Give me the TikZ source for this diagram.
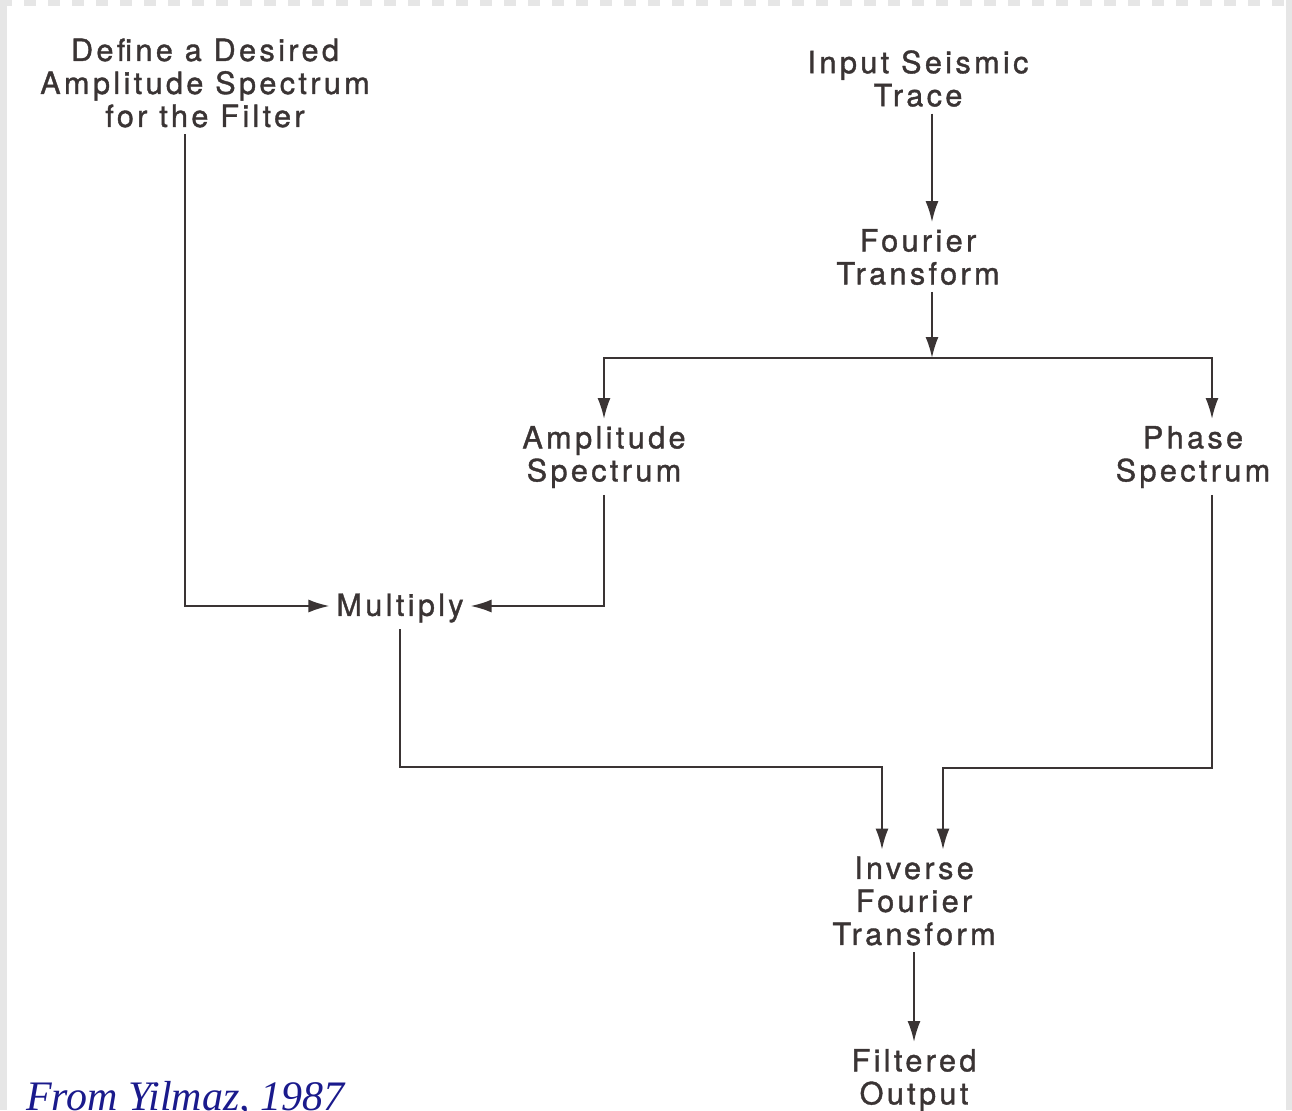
\documentclass[tikz,border=0pt]{standalone}
\usepackage{fontspec}
\usepackage{tikz}
\usetikzlibrary{arrows.meta,calc}
\newfontfamily\flowfont[LetterSpace=11,FakeBold=1.2]{TeX Gyre Heros}
\newfontfamily\citefont{Liberation Serif}
\definecolor{ink}{HTML}{3A3434}
\definecolor{frame}{HTML}{E6E6E6}
\definecolor{navy}{HTML}{1A1A8C}

\begin{document}
\begin{tikzpicture}[x=0.5pt, y=-0.5pt, line width=1pt, draw=ink,
    main/.style = {align=center, text=ink, inner sep=3pt,
      font=\flowfont\fontsize{15.3}{16.5}\selectfont},
    arr/.style = {-{Latex[length=10.5pt,width=6.5pt]}, ink}]
    \useasboundingbox (0,0) rectangle (1292,1110);
    % page frame of the scan
    \fill[white] (0,0) rectangle (1292,1110);
    \fill[frame] (0,0) rectangle (7,1110);
    \fill[frame] (1286,0) rectangle (1292,1110);
    \foreach \i in {0,...,53} {\fill[frame] (\i*24,0) rectangle ++(12,6);}

    \node[main] (define) at (205,83) {Define a Desired\\Amplitude Spectrum\\for the Filter};
    \node[main] (input) at (918,78.5) {Input Seismic\\Trace};
    \node[main] (fourier) at (918,257) {Fourier\\Transform};
    \node[main] (ampspec) at (604,457) {Amplitude\\Spectrum};
    \node[main] (phasespec) at (1193,457) {Phase\\Spectrum};
    \node[main] (multiply) at (400,608) {Multiply};
    \node[main] (inverse) at (914,901) {Inverse\\Fourier\\Transform};
    \node[main] (filtered) at (914,1080) {Filtered\\Output};
    \node[anchor=base west, inner sep=0pt, text=navy,
      font=\citefont\itshape\fontsize{21}{24}\selectfont] (source) at (25,1110) {From Yilmaz, 1987};

    \coordinate (split) at (932,358);
    \coordinate (jl) at (882,767);
    \coordinate (jr) at (943,768);

    \draw[arr] ([xshift=-10pt]define.south) |- ([yshift=1pt]multiply.west);
    \draw[arr] ([xshift=7pt]input.south) -- ([xshift=7pt]fourier.north);
    \draw[arr] ([xshift=7pt]fourier.south) -- (split);
    \draw[arr] (split) -| (ampspec.north);
    \draw[arr] (split) -| ([xshift=9.5pt]phasespec.north);
    \draw[arr] (ampspec.south) |- ([yshift=1pt]multiply.east);
    \draw[arr] (multiply.south) |- (jl) -- (jl |- inverse.north);
    \draw[arr] ([xshift=9.5pt]phasespec.south) |- (jr) -- (jr |- inverse.north);
    \draw[arr] (inverse) -- (filtered);
\end{tikzpicture}
\end{document}
